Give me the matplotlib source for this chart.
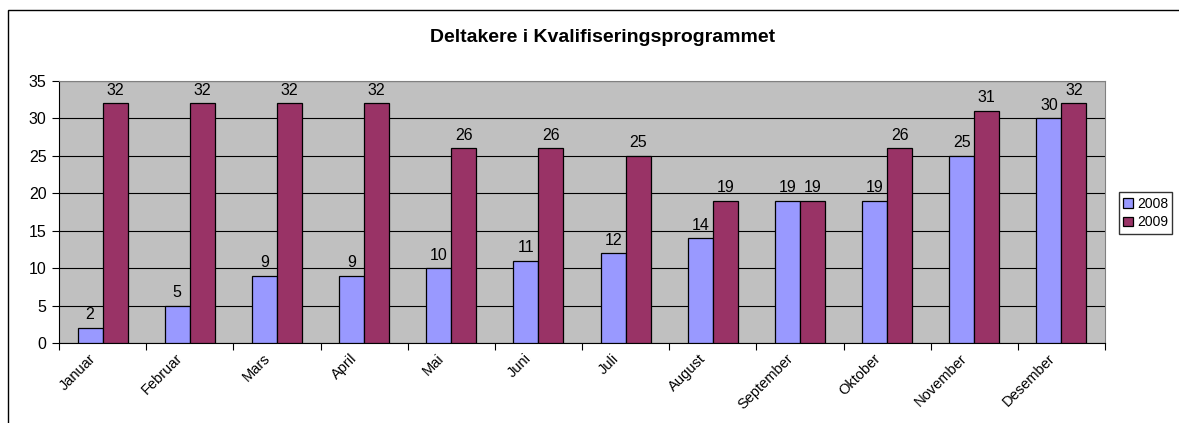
import numpy as np
import matplotlib.pyplot as plt
import matplotlib.transforms as mtransforms
from matplotlib.patches import Rectangle

plt.rcParams['font.family'] = ['Liberation Sans', 'DejaVu Sans']

maneder = ['Januar', 'Februar', 'Mars', 'April', 'Mai', 'Juni', 'Juli',
           'August', 'September', 'Oktober', 'November', 'Desember']
verdier_2008 = [2, 5, 9, 9, 10, 11, 12, 14, 19, 19, 25, 30]
verdier_2009 = [32, 32, 32, 32, 26, 26, 25, 19, 19, 26, 31, 32]

fig = plt.figure(figsize=(11.79, 4.23), dpi=100)
ax = fig.add_axes([59 / 1179, 1 - 343 / 423, 1046 / 1179, 262 / 423])

x = np.arange(len(maneder))
b = 0.287
s1 = ax.bar(x - b / 2, verdier_2008, b, color='#9999FF', edgecolor='black', linewidth=0.9, label='2008', zorder=3)
s2 = ax.bar(x + b / 2, verdier_2009, b, color='#993366', edgecolor='black', linewidth=0.9, label='2009', zorder=3)
ax.bar_label(s1, padding=4, fontsize=11.5)
ax.bar_label(s2, padding=4, fontsize=11.5)

ax.set_facecolor('#C0C0C0')
ax.set_xlim(-0.5, len(maneder) - 0.5)
ax.set_ylim(0, 35)
ax.set_yticks(range(0, 36, 5))
ax.yaxis.grid(True, color='black', linewidth=0.8, zorder=0)
ax.set_axisbelow(True)

ax.set_xticks(np.arange(-0.5, len(maneder), 1))
ax.set_xticklabels([])
ax.set_xticks(x, minor=True)
ax.set_xticklabels(maneder, minor=True, rotation=45, ha='right', rotation_mode='anchor', fontsize=10.5)
ax.tick_params(axis='x', which='minor', length=0, pad=6)
ax.tick_params(axis='x', which='major', length=5, color='black')
ax.tick_params(axis='y', length=5, labelsize=11.5, pad=4)

# flytt månedsetikettene litt mot venstre, som i originalen
skift = mtransforms.ScaledTranslation(-14 / 100, 0, fig.dpi_scale_trans)
for lbl in ax.get_xticklabels(minor=True):
    lbl.set_transform(lbl.get_transform() + skift)

for side in ['top', 'right']:
    ax.spines[side].set_color('#808080')
for side in ['left', 'bottom']:
    ax.spines[side].set_color('black')

fig.text(603 / 1179, 1 - 37 / 423, 'Deltakere i Kvalifiseringsprogrammet',
         ha='center', va='center', fontsize=14, fontweight='bold')

fig.legend(loc='center left', bbox_to_anchor=(1116 / 1179, 1 - 213 / 423),
           fontsize=10, frameon=True, fancybox=False, edgecolor='black',
           handlelength=0.7, handleheight=0.7, handletextpad=0.3,
           borderpad=0.3, borderaxespad=0.2, labelspacing=0.35)

fig.patches.append(Rectangle((8 / 1179, -0.1), 1.2, 1.1 - 10 / 423,
                             transform=fig.transFigure, fill=False,
                             edgecolor='black', linewidth=1.0))

fig.savefig('out.png', dpi=100)
